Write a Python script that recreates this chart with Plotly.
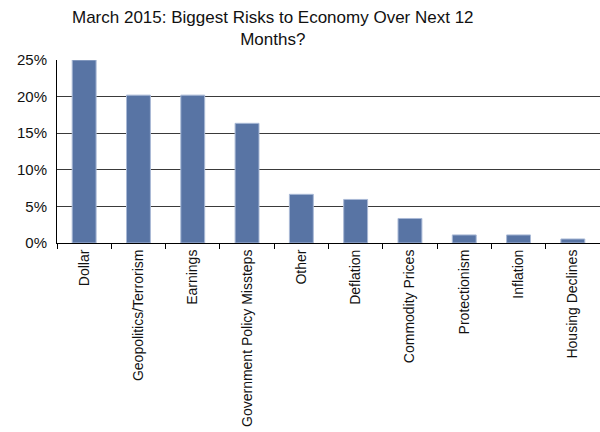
import plotly.graph_objects as go

categories = ["Dollar", "Geopolitics/Terrorism", "Earnings", "Government Policy Missteps",
              "Other", "Deflation", "Commodity Prices", "Protectionism", "Inflation",
              "Housing Declines"]
values = [25.0, 20.2, 20.2, 16.35, 6.65, 5.95, 3.35, 1.1, 1.1, 0.55]
y_ticks = [0, 5, 10, 15, 20, 25]
y_labels = ["0%", "5%", "10%", "15%", "20%", "25%"]

fig = go.Figure(go.Bar(
    x=categories, y=values,
    marker=dict(color="#5874A4", line=dict(color="#A9B9D6", width=1)),
    width=0.44,
))

fig.update_layout(
    width=600, height=432,
    margin=dict(l=57, r=0, t=60, b=189),
    paper_bgcolor="white", plot_bgcolor="white",
    font=dict(family="Liberation Sans, Arial, sans-serif", color="#111111"),
    showlegend=False,
    bargap=0.56,
)
fig.add_annotation(
    text="March 2015: Biggest Risks to Economy Over Next 12<br>Months?",
    xref="paper", yref="paper", x=0.397, y=1, yshift=54, yanchor="top",
    xanchor="center", showarrow=False, align="center",
    font=dict(size=17, color="#111111"),
)
fig.update_yaxes(
    range=[0, 25], tickvals=y_ticks, ticktext=y_labels,
    showgrid=True, gridcolor="#3a3a3a", gridwidth=1,
    showline=True, linecolor="black", linewidth=1,
    ticks="", tickfont=dict(size=15), zeroline=False,
    ticklabelstandoff=6,
)
fig.update_xaxes(
    tickangle=-90, tickfont=dict(size=14),
    showline=True, linecolor="black", linewidth=1,
    ticks="outside", tickson="boundaries", ticklen=5, tickcolor="black",
    range=[-0.5, 9.5],
)
fig.write_html("out.html")
